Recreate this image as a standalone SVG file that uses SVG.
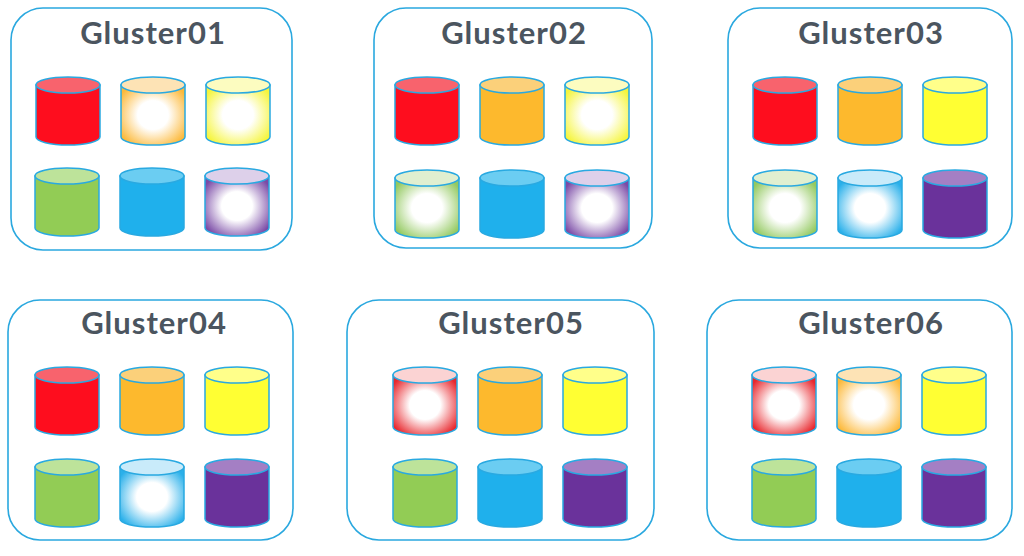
<svg xmlns="http://www.w3.org/2000/svg" xmlns:xlink="http://www.w3.org/1999/xlink" width="1024" height="556" viewBox="0 0 1024 556">
<style>
.box{fill:#fff;stroke:#2aa8df;stroke-width:1.6}
.t{font-family:Lato,"Open Sans",sans-serif;font-weight:bold;font-size:31px;letter-spacing:1px;fill:#4b555f;text-anchor:middle}
.c{stroke:#29a9e1;stroke-width:1.5}
</style>
<defs>
<radialGradient id="gr" cx="0.5" cy="0.5" r="0.6"><stop offset="0.4" stop-color="#fff"/><stop offset="1" stop-color="#e8282e"/></radialGradient>
<radialGradient id="go" cx="0.5" cy="0.5" r="0.6"><stop offset="0.4" stop-color="#fff"/><stop offset="1" stop-color="#fcb93a"/></radialGradient>
<radialGradient id="gy" cx="0.5" cy="0.5" r="0.6"><stop offset="0.4" stop-color="#fff"/><stop offset="1" stop-color="#f5f53a"/></radialGradient>
<radialGradient id="gg" cx="0.5" cy="0.5" r="0.6"><stop offset="0.4" stop-color="#fff"/><stop offset="1" stop-color="#93c960"/></radialGradient>
<radialGradient id="gb" cx="0.5" cy="0.5" r="0.6"><stop offset="0.4" stop-color="#fff"/><stop offset="1" stop-color="#2ab0ea"/></radialGradient>
<radialGradient id="gp" cx="0.5" cy="0.5" r="0.6"><stop offset="0.4" stop-color="#fff"/><stop offset="1" stop-color="#7a4aa6"/></radialGradient>
<path id="body" d="M0,8 V60 A32,8 0 0 0 64,60 V8 Z"/>
<ellipse id="top" cx="32" cy="8" rx="32" ry="8"/>
<g id="r" class="c"><use xlink:href="#body" fill="#fe0d1e"/><use xlink:href="#top" fill="#f8636d"/></g>
<g id="o" class="c"><use xlink:href="#body" fill="#fdb92d"/><use xlink:href="#top" fill="#fbd07a"/></g>
<g id="y" class="c"><use xlink:href="#body" fill="#ffff33"/><use xlink:href="#top" fill="#ffff8a"/></g>
<g id="g" class="c"><use xlink:href="#body" fill="#92cc55"/><use xlink:href="#top" fill="#bde39a"/></g>
<g id="b" class="c"><use xlink:href="#body" fill="#1fb0ec"/><use xlink:href="#top" fill="#6bcdf2"/></g>
<g id="p" class="c"><use xlink:href="#body" fill="#6a329b"/><use xlink:href="#top" fill="#a47fc4"/></g>
<g id="rf" class="c"><use xlink:href="#body" fill="url(#gr)"/><use xlink:href="#top" fill="#fbd3d3"/></g>
<g id="of" class="c"><use xlink:href="#body" fill="url(#go)"/><use xlink:href="#top" fill="#fde3b5"/></g>
<g id="yf" class="c"><use xlink:href="#body" fill="url(#gy)"/><use xlink:href="#top" fill="#fcfcc0"/></g>
<g id="gf" class="c"><use xlink:href="#body" fill="url(#gg)"/><use xlink:href="#top" fill="#e0efd0"/></g>
<g id="bf" class="c"><use xlink:href="#body" fill="url(#gb)"/><use xlink:href="#top" fill="#c9ebfa"/></g>
<g id="pf" class="c"><use xlink:href="#body" fill="url(#gp)"/><use xlink:href="#top" fill="#ddd0ea"/></g>
</defs>
<g id="Gluster01">
<rect class="box" x="11" y="8" width="281" height="242" rx="32"/>
<text class="t" x="153" y="44">Gluster01</text>
<use xlink:href="#r" x="36" y="77"/><use xlink:href="#of" x="121" y="77"/><use xlink:href="#yf" x="206" y="77"/>
<use xlink:href="#g" x="35" y="168"/><use xlink:href="#b" x="120" y="168"/><use xlink:href="#pf" x="205" y="168"/>
</g>
<g id="Gluster02">
<rect class="box" x="374" y="8" width="278" height="240" rx="32"/>
<text class="t" x="514" y="44">Gluster02</text>
<use xlink:href="#r" x="395" y="77"/><use xlink:href="#o" x="480" y="77"/><use xlink:href="#yf" x="565" y="77"/>
<use xlink:href="#gf" x="395" y="170"/><use xlink:href="#b" x="480" y="170"/><use xlink:href="#pf" x="565" y="170"/>
</g>
<g id="Gluster03">
<rect class="box" x="728" y="8" width="284" height="240" rx="32"/>
<text class="t" x="871" y="44">Gluster03</text>
<use xlink:href="#r" x="753" y="77"/><use xlink:href="#o" x="838" y="77"/><use xlink:href="#y" x="923" y="77"/>
<use xlink:href="#gf" x="753" y="170"/><use xlink:href="#bf" x="838" y="170"/><use xlink:href="#p" x="923" y="170"/>
</g>
<g id="Gluster04">
<rect class="box" x="8" y="300" width="285" height="240" rx="32"/>
<text class="t" x="154" y="334">Gluster04</text>
<use xlink:href="#r" x="35" y="367"/><use xlink:href="#o" x="120" y="367"/><use xlink:href="#y" x="205" y="367"/>
<use xlink:href="#g" x="35" y="459"/><use xlink:href="#bf" x="120" y="459"/><use xlink:href="#p" x="205" y="459"/>
</g>
<g id="Gluster05">
<rect class="box" x="347" y="300" width="307" height="240" rx="32"/>
<text class="t" x="511" y="334">Gluster05</text>
<use xlink:href="#rf" x="393" y="367"/><use xlink:href="#o" x="478" y="367"/><use xlink:href="#y" x="563" y="367"/>
<use xlink:href="#g" x="393" y="459"/><use xlink:href="#b" x="478" y="459"/><use xlink:href="#p" x="563" y="459"/>
</g>
<g id="Gluster06">
<rect class="box" x="707" y="300" width="305" height="240" rx="32"/>
<text class="t" x="871" y="334">Gluster06</text>
<use xlink:href="#rf" x="752" y="367"/><use xlink:href="#of" x="837" y="367"/><use xlink:href="#y" x="922" y="367"/>
<use xlink:href="#g" x="752" y="459"/><use xlink:href="#b" x="837" y="459"/><use xlink:href="#p" x="922" y="459"/>
</g>
<g id="connectors"/>
</svg>
